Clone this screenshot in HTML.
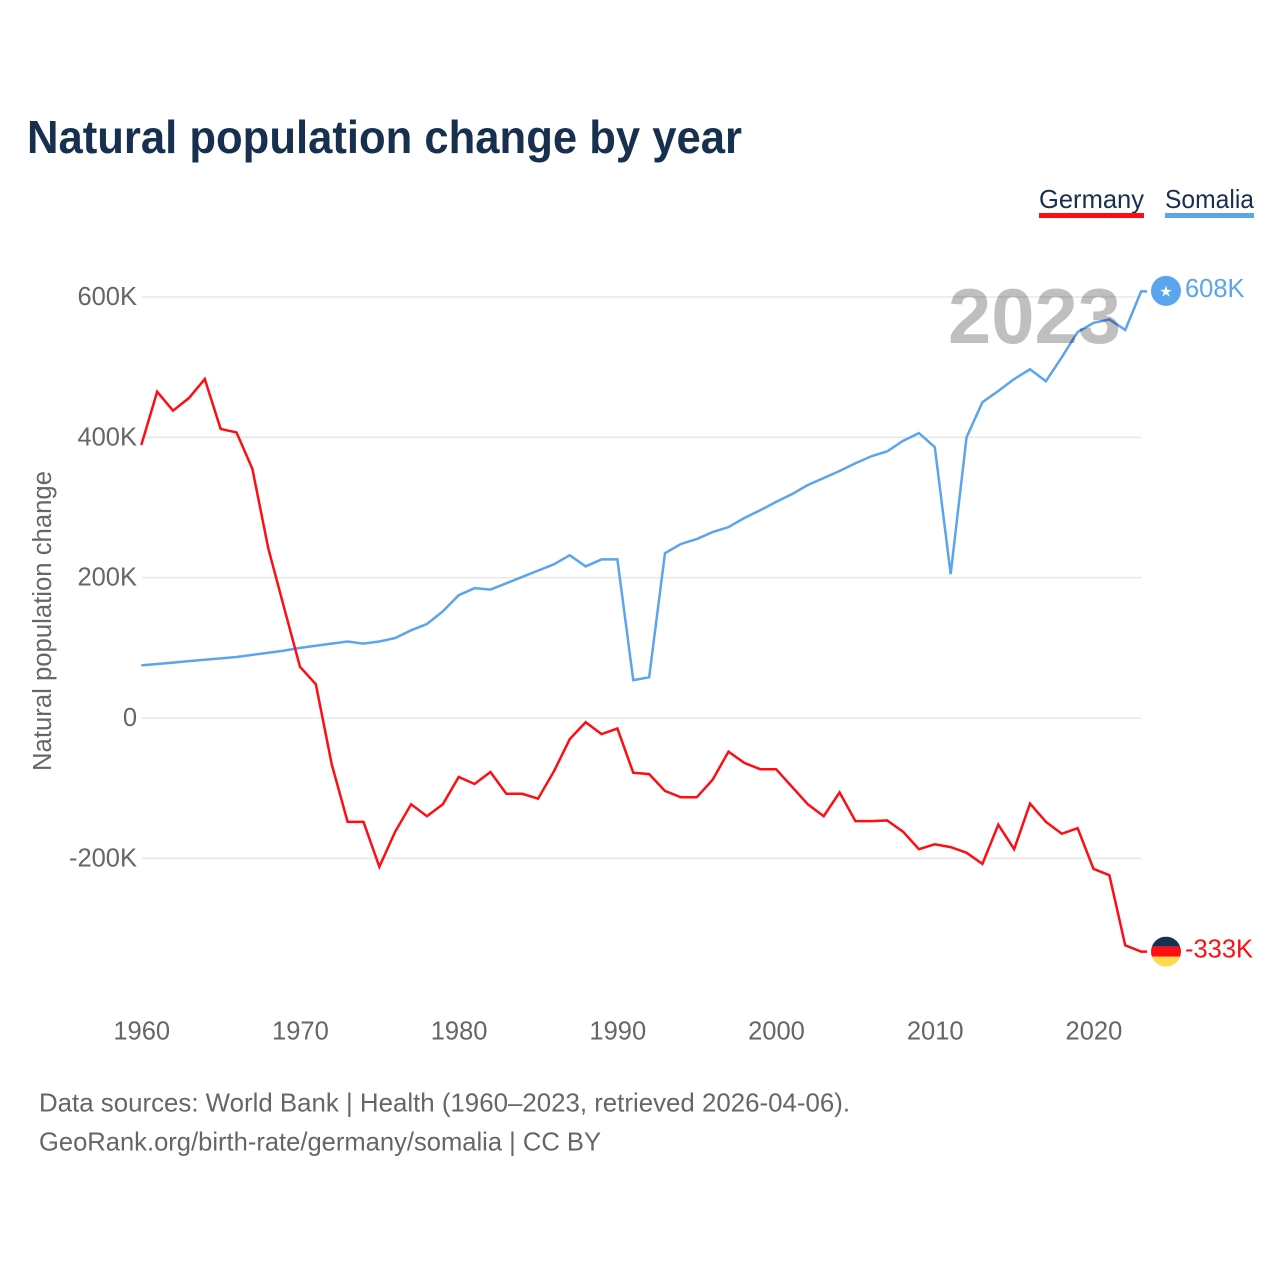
<!DOCTYPE html>
<html lang="en">
<head>
<meta charset="utf-8">
<title>Natural population change by year</title>
<style>
  html, body { margin: 0; padding: 0; background: #fff; }
  svg { display: block; font-family: "Liberation Sans", sans-serif; }
</style>
</head>
<body>
<svg id="chart" xmlns="http://www.w3.org/2000/svg" width="1280" height="1280" viewBox="0 0 1280 1280">
  <rect width="1280" height="1280" fill="#ffffff"/>
  <text x="27" y="153" font-size="46" font-weight="700" fill="#17304f" textLength="715" lengthAdjust="spacingAndGlyphs">Natural population change by year</text>

  <g>
    <text x="1039" y="208" font-size="26" fill="#17304f" textLength="105" lengthAdjust="spacingAndGlyphs">Germany</text>
    <rect x="1039" y="213" width="105" height="5" fill="#ff0d12"/>
  </g>
  <g>
    <text x="1165" y="208" font-size="26" fill="#17304f" textLength="89" lengthAdjust="spacingAndGlyphs">Somalia</text>
    <rect x="1165" y="213" width="89" height="5" fill="#5ba4ee"/>
  </g>

  <g id="grid"></g>
  <g id="y-ticks"></g>
  <g id="x-ticks"></g>
  <text transform="translate(51 621) rotate(-90)" text-anchor="middle" font-size="25.5" fill="#666666" textLength="300" lengthAdjust="spacingAndGlyphs">Natural population change</text>

  <g id="series"></g>

  <text x="948" y="343" font-size="78" font-weight="700" fill="#000000" fill-opacity="0.25" textLength="173" lengthAdjust="spacingAndGlyphs">2023</text>

  <clipPath id="flag-clip-germany"><circle id="flag-clip-germany-circle" r="15"/></clipPath>
  <g id="marker-germany"></g>
  <g id="marker-somalia"></g>

  <text id="value-germany" x="1185" font-size="25.5" fill="#ff0d12"></text>
  <text id="value-somalia" x="1185" font-size="25.5" fill="#5ba4ee"></text>

  <text x="39" y="1111.5" font-size="26" fill="#666666" textLength="811" lengthAdjust="spacingAndGlyphs">Data sources: World Bank | Health (1960–2023, retrieved 2026-04-06).</text>
  <text x="39" y="1150.5" font-size="26" fill="#666666" textLength="562" lengthAdjust="spacingAndGlyphs">GeoRank.org/birth-rate/germany/somalia | CC BY</text>
</svg>
<script>
const years = [1960,1961,1962,1963,1964,1965,1966,1967,1968,1969,1970,1971,1972,1973,1974,1975,1976,1977,1978,1979,1980,1981,1982,1983,1984,1985,1986,1987,1988,1989,1990,1991,1992,1993,1994,1995,1996,1997,1998,1999,2000,2001,2002,2003,2004,2005,2006,2007,2008,2009,2010,2011,2012,2013,2014,2015,2016,2017,2018,2019,2020,2021,2022,2023];
const germanyValues = [389,465,438,456,483,412,407,355,242,157,73,48,-66,-148,-148,-212,-162,-123,-140,-123,-84,-94,-77,-108,-108,-115,-76,-30,-6,-23,-15,-78,-80,-104,-113,-113,-88,-48,-64,-73,-73,-98,-123,-140,-106,-147,-147,-146,-162,-187,-180,-184,-192,-208,-152,-187,-122,-148,-165,-157,-215,-224,-324,-333];
const somaliaValues = [75,77,79,81,83,85,87,90,93,96,100,103,106,109,106,109,114,125,134,152,175,185,183,192,201,210,219,232,216,226,226,54,58,235,248,255,265,272,285,296,308,319,332,342,352,363,373,380,395,406,386,205,400,450,466,483,497,480,514,550,563,568,553,608];
const yTickValues = [600,400,200,0,-200];
const yTickLabels = ["600K","400K","200K","0","-200K"];
const xTickValues = [1960,1970,1980,1990,2000,2010,2020];
const germanyEndLabel = "-333K";
const somaliaEndLabel = "608K";

const NS = "http://www.w3.org/2000/svg";
function xScale(year) { return 141.3 + (year - 1960) * 15.87; }
function yScale(value) { return 718 - value * 0.70167; }
function make(tag, attrs, parent) {
  const el = document.createElementNS(NS, tag);
  for (const k in attrs) el.setAttribute(k, attrs[k]);
  parent.appendChild(el);
  return el;
}

const gridGroup = document.getElementById("grid");
const yGroup = document.getElementById("y-ticks");
yTickValues.forEach(function (v, i) {
  const line = make("line", { x1: 142, x2: 1141, y1: yScale(v), y2: yScale(v), stroke: "#e8e8e8", "stroke-width": 1.6 }, gridGroup);
  
  
  const label = make("text", { x: 137, y: yScale(v) + 8, "text-anchor": "end", "font-size": 25.5, fill: "#666666" }, yGroup);
  label.textContent = yTickLabels[i];
  
  
});

const xGroup = document.getElementById("x-ticks");
xTickValues.forEach(function (yr) {
  const label = make("text", { x: xScale(yr) + 0.4, y: 1039.5, "text-anchor": "middle", "font-size": 25.5, fill: "#666666" }, xGroup);
  label.textContent = String(yr);
  
  
});

function linePoints(values) {
  const pts = values.map(function (v, i) { return xScale(years[i]) + "," + yScale(v); });
  const last = values[values.length - 1];
  pts.push((xScale(years[years.length - 1]) + 6) + "," + yScale(last));
  return pts.join(" ");
}
const seriesGroup = document.getElementById("series");
const somaliaLine = make("polyline", { points: linePoints(somaliaValues), fill: "none", stroke: "#5ba4ee", "stroke-width": 2.5, "stroke-linejoin": "miter" }, seriesGroup);


const germanyLine = make("polyline", { points: linePoints(germanyValues), fill: "none", stroke: "#ff0d12", "stroke-width": 2.5, "stroke-linejoin": "miter" }, seriesGroup);



const markerX = 1166;
const gY = yScale(germanyValues[germanyValues.length - 1]);
const sY = yScale(somaliaValues[somaliaValues.length - 1]);

const clipCircle = document.getElementById("flag-clip-germany-circle");
clipCircle.setAttribute("cx", markerX);
clipCircle.setAttribute("cy", gY);
const gFlag = document.getElementById("marker-germany");
gFlag.setAttribute("clip-path", "url(#flag-clip-germany)");
const stripeTop = make("rect", { x: markerX - 15, y: gY - 15, width: 30, height: 10, fill: "#17304f" }, gFlag);


const stripeMid = make("rect", { x: markerX - 15, y: gY - 5, width: 30, height: 10, fill: "#ff0d12" }, gFlag);


const stripeBot = make("rect", { x: markerX - 15, y: gY + 5, width: 30, height: 10, fill: "#ffd84d" }, gFlag);



const sFlag = document.getElementById("marker-somalia");
const sDisc = make("circle", { cx: markerX, cy: sY - 0.5, r: 15, fill: "#5ba4ee" }, sFlag);


const sStar = make("text", { x: markerX, y: sY + 5, "text-anchor": "middle", "font-size": 15, fill: "#ffffff", "font-family": "DejaVu Sans, sans-serif" }, sFlag);
sStar.textContent = "★";



const gValue = document.getElementById("value-germany");
gValue.setAttribute("y", gY + 6);
gValue.textContent = germanyEndLabel;
const sValue = document.getElementById("value-somalia");
sValue.setAttribute("y", sY + 5.5);
sValue.textContent = somaliaEndLabel;
</script>
</body>
</html>
